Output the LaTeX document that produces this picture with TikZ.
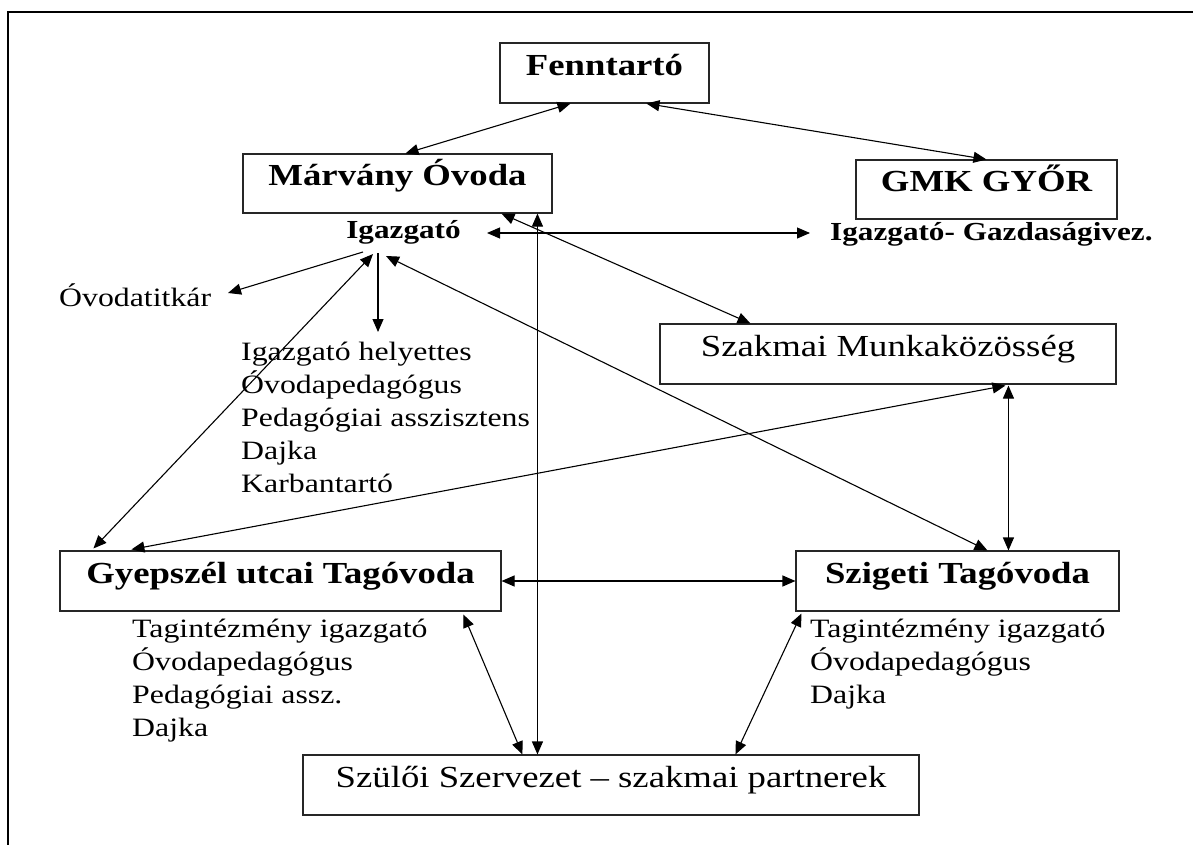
\documentclass[tikz,border=0pt]{standalone}
\usepackage{fontspec}
\setmainfont{Liberation Serif}[FakeStretch=1.2]
\usetikzlibrary{arrows.meta}
\tikzset{
  box/.style={draw=black!85, line width=1.1pt, inner sep=0pt, text height=0.7em, text depth=0.25em},
  bigb/.style={font=\bfseries\fontsize{30.6}{36}\selectfont},
  bigr/.style={font=\fontsize{30.6}{36}\selectfont},
  smallb/.style={inner sep=0pt, font=\bfseries\fontsize{26}{31}\selectfont},
  staff/.style={inner sep=0pt, anchor=base west, font=\fontsize{26.5}{33}\selectfont},
  conn/.style={line width=1.1pt, {Triangle[length=13pt,width=11pt]}-{Triangle[length=13pt,width=11pt]}},
  oneway/.style={line width=1.1pt, -{Triangle[length=13pt,width=11pt]}}
}
\begin{document}
\begin{tikzpicture}[x=1pt,y=-1pt]
\useasboundingbox (0,0) rectangle (1193,845);
\draw[line width=2pt] (8,845) -- (8,12) -- (1193,12);

% boxes
\node[box,bigb,minimum width=209pt,minimum height=60pt] (fenn) at (604.5,73) {Fenntartó};
\node[box,bigb,minimum width=309pt,minimum height=59pt] (marv) at (397.5,183.5) {Márvány Óvoda};
\node[box,bigb,minimum width=261pt,minimum height=59pt] (gmk) at (986.5,189.5) {GMK GYŐR};
\node[box,bigr,minimum width=456pt,minimum height=60pt] (szak) at (888,354) {Szakmai Munkaközösség};
\node[box,bigb,minimum width=441pt,minimum height=60pt] (gyep) at (280.5,581) {Gyepszél utcai Tagóvoda};
\node[box,bigb,minimum width=323pt,minimum height=60pt] (szig) at (957.5,581) {Szigeti Tagóvoda};
\node[box,bigr,minimum width=616pt,minimum height=60pt] (szul) at (611,785) {Szülői Szervezet – szakmai partnerek};

% labels
\node[smallb,anchor=base] (igaz) at (403.5,238) {Igazgató};
\node[smallb,anchor=base west] (gazd) at (830,240) {Igazgató- Gazdaságivez.};
\node[staff] (titk) at (59,306) {Óvodatitkár};

\node[staff] (sa1) at (241,360) {Igazgató helyettes};
\node[staff] (sa2) at (241,393) {Óvodapedagógus};
\node[staff] (sa3) at (241,426) {Pedagógiai asszisztens};
\node[staff] (sa4) at (241,459) {Dajka};
\node[staff] (sa5) at (241,492) {Karbantartó};

\node[staff] (sb1) at (132,637) {Tagintézmény igazgató};
\node[staff] (sb2) at (132,670) {Óvodapedagógus};
\node[staff] (sb3) at (132,703) {Pedagógiai assz.};
\node[staff] (sb4) at (132,736) {Dajka};

\node[staff] (sc1) at (810,637) {Tagintézmény igazgató};
\node[staff] (sc2) at (810,670) {Óvodapedagógus};
\node[staff] (sc3) at (810,703) {Dajka};

% connectors
\draw[conn] ([shift={(71,0)}]fenn.south west) -- ([shift={(163,0)}]marv.north west);
\draw[conn] ([shift={(147,0)}]fenn.south west) -- ([shift={(131,0)}]gmk.north west);
\draw[conn] ([shift={(295,0)}]marv.south west) -- ([shift={(235,0)}]szul.north west);
\draw[conn] ([shift={(259,0)}]marv.south west) -- ([shift={(91,0)}]szak.north west);
\draw[conn] ([shift={(83.5,-5)}]igaz.base) -- ([shift={(-20,-7)}]gazd.base west);
\draw[oneway] ([shift={(-40.5,14)}]igaz.base) -- ([shift={(169,-13)}]titk.base west);
\draw[oneway] ([shift={(-25.5,15)}]igaz.base) -- ([shift={(137,-28)}]sa1.base west);
\draw[conn] ([shift={(-30.5,16)}]igaz.base) -- ([shift={(34,-2)}]gyep.north west);
\draw[conn] ([shift={(-17.5,18)}]igaz.base) -- ([shift={(192,0)}]szig.north west);
\draw[conn] ([shift={(346,1)}]szak.south west) -- ([shift={(72,-1)}]gyep.north west);
\draw[conn] ([shift={(349,1)}]szak.south west) -- ([shift={(213,0)}]szig.north west);
\draw[conn] (gyep.east) -- (szig.west);
\draw[conn] ([shift={(404,3)}]gyep.south west) -- ([shift={(220,0)}]szul.north west);
\draw[conn] ([shift={(6,2)}]szig.south west) -- ([shift={(433,0)}]szul.north west);
\end{tikzpicture}
\end{document}
